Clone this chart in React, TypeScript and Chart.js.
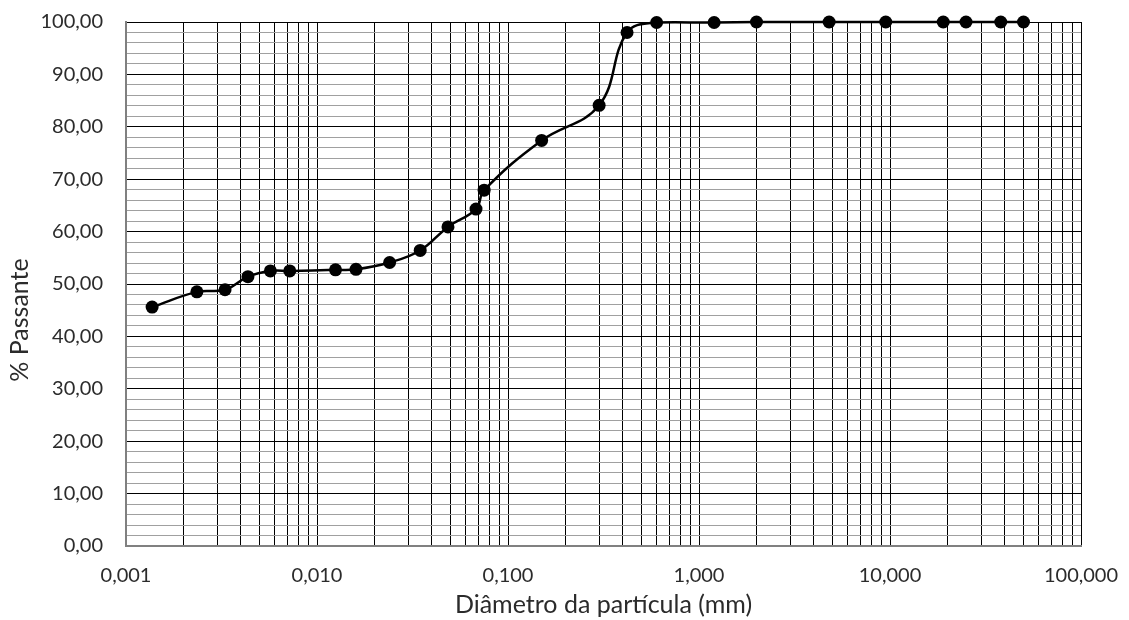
import React, { useEffect, useRef } from 'react';
import { Chart, registerables } from 'chart.js';

Chart.register(...registerables);

// Particle diameter (mm) and % passing
const diameters = [
  0.00137, 0.00235, 0.0033, 0.00435, 0.0057, 0.0072, 0.0125, 0.016, 0.024,
  0.0347, 0.0485, 0.068, 0.075, 0.15, 0.3, 0.42, 0.6, 1.2, 2.0, 4.8, 9.5,
  19, 25, 38, 50,
];
const passing = [
  45.6, 48.5, 48.9, 51.4, 52.5, 52.5, 52.7, 52.8, 54.1, 56.4, 60.9, 64.3,
  67.9, 77.4, 84.1, 98.0, 99.9, 99.9, 100, 100, 100, 100, 100, 100, 100,
];

const xTickValues = [0.001, 0.01, 0.1, 1, 10, 100];
const xTickLabels = ['0,001', '0,010', '0,100', '1,000', '10,000', '100,000'];
const yTickValues = [0, 10, 20, 30, 40, 50, 60, 70, 80, 90, 100];
const yTickLabels = ['0,00', '10,00', '20,00', '30,00', '40,00', '50,00', '60,00', '70,00', '80,00', '90,00', '100,00'];

const xAxisTitle = 'Diâmetro da partícula (mm)';
const yAxisTitle = '% Passante';

const FONT = 'Lato, "Open Sans", sans-serif';
const TEXT_COLOR = '#2b2b2b';

const yTitlePlugin = {
  id: 'yTitleText',
  afterDraw(chart: any) {
    const ctx = chart.ctx;
    ctx.save();
    ctx.translate(20, 320);
    ctx.rotate(-Math.PI / 2);
    ctx.font = `25px ${FONT}`;
    ctx.fillStyle = TEXT_COLOR;
    ctx.textAlign = 'center';
    ctx.textBaseline = 'middle';
    ctx.fillText(yAxisTitle, 0, 0);
    ctx.restore();
  },
};

export default function App() {
  const ref = useRef<HTMLCanvasElement>(null);

  useEffect(() => {
    document.body.style.margin = '0';
    const canvas = ref.current;
    if (!canvas) return;

    const chart = new Chart(canvas, {
      type: 'line',
      data: {
        datasets: [
          {
            data: diameters.map((d, i) => ({ x: d, y: passing[i] })),
            borderColor: '#000000',
            backgroundColor: '#000000',
            borderWidth: 2.5,
            pointRadius: 6.5,
            pointBackgroundColor: '#000000',
            pointBorderColor: '#000000',
            pointBorderWidth: 0,
            tension: 0.4,
            fill: false,
            clip: false as any,
          },
        ],
      },
      options: {
        animation: false,
        responsive: false,
        maintainAspectRatio: false,
        layout: { autoPadding: false, padding: { top: 22, right: 48, bottom: 0, left: 0 } },
        plugins: {
          legend: { display: false },
          tooltip: { enabled: false },
        },
        scales: {
          x: {
            type: 'logarithmic',
            min: 0.001,
            max: 100,
            afterBuildTicks(scale: any) {
              const ticks: { value: number }[] = [];
              for (let e = -3; e <= 1; e++) {
                for (let m = 1; m <= 9; m++) {
                  ticks.push({ value: m * Math.pow(10, e) });
                }
              }
              ticks.push({ value: 100 });
              scale.ticks = ticks;
            },
            afterFit(scale: any) {
              scale.height = 74;
              scale.paddingLeft = 0;
              scale.paddingRight = 0;
            },
            grid: { color: '#000000', lineWidth: 1, drawTicks: false },
            border: { color: '#808080', width: 2 },
            ticks: {
              autoSkip: false,
              maxRotation: 0,
              padding: 18,
              color: TEXT_COLOR,
              font: { family: FONT, size: 20 },
              callback(value: any) {
                const v = Number(value);
                const idx = xTickValues.findIndex(
                  (t) => Math.abs(Math.log10(t) - Math.log10(v)) < 1e-6
                );
                return idx >= 0 ? xTickLabels[idx] : '';
              },
            },
            title: {
              display: true,
              text: xAxisTitle,
              color: TEXT_COLOR,
              font: { family: FONT, size: 25 },
              padding: { top: 0, bottom: 0 },
            },
          },
          y: {
            min: 0,
            max: 100,
            afterBuildTicks(scale: any) {
              const ticks: { value: number }[] = [];
              for (let v = 0; v <= 100; v += 2) ticks.push({ value: v });
              scale.ticks = ticks;
            },
            afterFit(scale: any) {
              scale.width = 126;
              scale.paddingTop = 0;
              scale.paddingBottom = 0;
            },
            grid: {
              color: (ctx: any) => (ctx.tick && ctx.tick.value % 10 === 0 ? '#000000' : '#a0a0a0'),
              lineWidth: 1,
              drawTicks: false,
            },
            border: { color: '#808080', width: 2 },
            ticks: {
              autoSkip: false,
              padding: 23,
              color: TEXT_COLOR,
              font: { family: FONT, size: 20 },
              callback(value: any) {
                const idx = yTickValues.indexOf(Number(value));
                return idx >= 0 ? yTickLabels[idx] : '';
              },
            },
          },
        },
      },
      plugins: [yTitlePlugin],
    });

    return () => chart.destroy();
  }, []);

  return (
    <div style={{ width: 1129, height: 620 }}>
      <canvas ref={ref} width={1129} height={620} style={{ display: 'block' }} />
    </div>
  );
}
